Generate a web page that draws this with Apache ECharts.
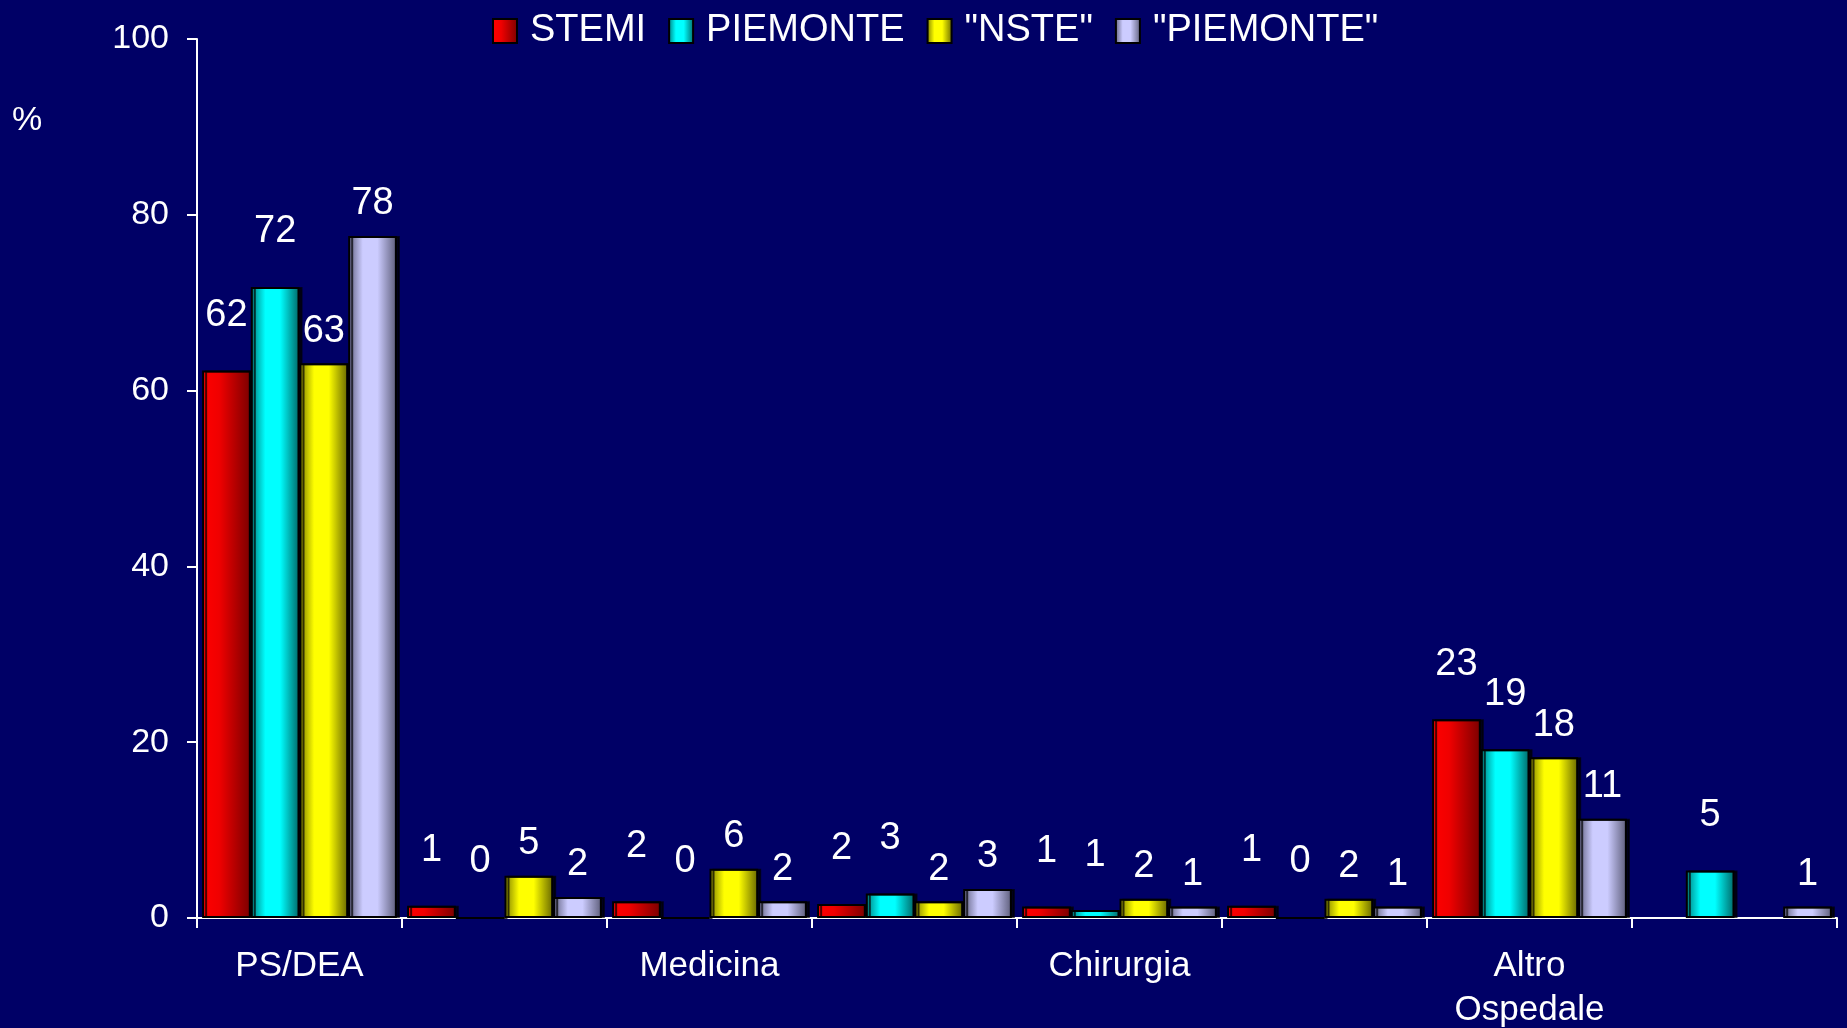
<!DOCTYPE html>
<html>
<head>
<meta charset="utf-8">
<script src="https://cdn.jsdelivr.net/npm/echarts@6/dist/echarts.min.js"></script>
<style>
html,body{margin:0;padding:0;background:#000066;}
#chart{width:1847px;height:1028px;}
</style>
</head>
<body>
<div id="chart"></div>
<script>
const categories = ['PS/DEA', '', 'Medicina', '', 'Chirurgia', '', 'Altro\nOspedale', ''];
const seriesNames = ['STEMI', 'PIEMONTE', '"NSTE"', '"PIEMONTE"'];
const stemi     = [62.3, 1.4, 1.9, 1.6, 1.3, 1.4, 22.6, null];
const piemonte  = [71.8, 0,   0,   2.8, 0.9, 0,   19.2, 5.4];
const nste      = [63.1, 4.8, 5.6, 1.9, 2.2, 2.2, 18.3, null];
const piemonte2 = [77.6, 2.4, 1.9, 3.3, 1.3, 1.3, 11.3, 1.3];
const yTicks = [0, 20, 40, 60, 80, 100];

const FONT = "'Liberation Sans', Arial, sans-serif";

function grad(stops) {
  return new echarts.graphic.LinearGradient(0, 0, 1, 0,
    stops.map(s => ({ offset: s[0], color: s[1] })));
}
const fills = [
  grad([[0, '#ff0000'], [0.35, '#f00000'], [1, '#7a0000']]),
  grad([[0, '#007a7a'], [0.3, '#00ffff'], [0.6, '#00ffff'], [1, '#006666']]),
  grad([[0, '#7a7a00'], [0.3, '#ffff00'], [0.6, '#ffff00'], [1, '#666600']]),
  grad([[0, '#5c5c7a'], [0.3, '#ccccff'], [0.6, '#ccccff'], [1, '#5c5c78']])
];
const labelDist = [36, 36, 13, 13];
const dataSets = [stemi, piemonte, nste, piemonte2];

const chart = echarts.init(document.getElementById('chart'), null, { renderer: 'canvas' });

const series = dataSets.map((d, i) => ({
  name: seriesNames[i],
  type: 'bar',
  data: d,
  barGap: '0%',
  barCategoryGap: '5%',
  itemStyle: {
    color: fills[i],
    borderColor: '#000000',
    borderWidth: 2,
    shadowColor: 'rgba(0,0,0,0.7)',
    shadowOffsetX: 3,
    shadowOffsetY: 0,
    shadowBlur: 0
  },
  label: {
    show: true,
    position: 'top',
    distance: labelDist[i],
    color: '#ffffff',
    fontFamily: FONT,
    fontSize: 38,
    formatter: p => (p.value === null || p.value === undefined) ? '' : String(Math.round(p.value))
  }
}));

chart.setOption({
  backgroundColor: '#000066',
  animation: false,
  legend: {
    left: 487,
    top: 7,
    itemWidth: 24,
    itemHeight: 24,
    itemGap: 22,
    icon: 'rect',
    data: seriesNames,
    textStyle: { color: '#ffffff', fontFamily: FONT, fontSize: 38, padding: [0, 0, 0, 8] }
  },
  grid: { left: 197, right: 10, top: 39, bottom: 110, containLabel: false, outerBoundsMode: 'none' },
  xAxis: {
    type: 'category',
    data: categories,
    axisLine: { lineStyle: { color: '#ffffff', width: 2 } },
    axisTick: { show: true, length: 10, interval: 0, alignWithLabel: false, lineStyle: { color: '#ffffff', width: 2 } },
    axisLabel: { interval: 0, color: '#ffffff', fontFamily: FONT, fontSize: 35, lineHeight: 44, margin: 26 }
  },
  yAxis: {
    type: 'value',
    min: yTicks[0],
    max: yTicks[yTicks.length - 1],
    interval: yTicks[1] - yTicks[0],
    splitLine: { show: false },
    axisLine: { show: true, lineStyle: { color: '#ffffff', width: 2 } },
    axisTick: { show: true, length: 10, lineStyle: { color: '#ffffff', width: 2 } },
    axisLabel: { color: '#ffffff', fontFamily: FONT, fontSize: 34, margin: 28 }
  },
  graphic: [{
    type: 'text',
    left: 12,
    top: 104,
    style: { text: '%', fill: '#ffffff', font: "34px 'Liberation Sans', Arial, sans-serif" }
  }],
  series: series
});
</script>
</body>
</html>
